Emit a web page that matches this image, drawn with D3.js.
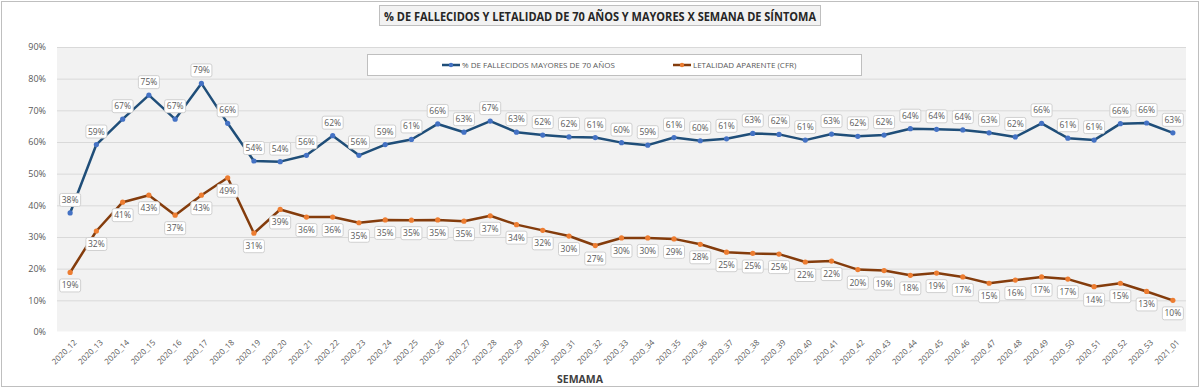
<!DOCTYPE html>
<html lang="es">
<head>
  <meta charset="UTF-8">
  <title>% de fallecidos y letalidad 70+</title>
  <script src="https://d3js.org/d3.v7.min.js"></script>
  <style>
    body { margin: 0; background: #fff; }
    text { font-family: "Open Sans", "Liberation Sans", sans-serif; }
  </style>
</head>
<body>
<svg width="1200" height="388"></svg>
<script>
  const svg = d3.select("svg"),
        width = +svg.attr("width"),
        height = +svg.attr("height");

  // Semanas
  const weeks = [];
  for (let w = 12; w <= 53; w++) weeks.push("2020_" + w);
  weeks.push("2021_01");

  // % de fallecidos mayores de 70 años
  const pctOld = [37.6, 59.2, 67.2, 74.8, 67.2, 78.5, 65.9, 54.0, 53.8, 55.8,
                  62.0, 55.8, 59.2, 60.8, 65.7, 63.1, 66.6, 63.1, 62.2, 61.6,
                  61.4, 59.8, 59.0, 61.4, 60.4, 61.0, 62.7, 62.4, 60.6, 62.5,
                  61.8, 62.2, 64.2, 64.0, 63.8, 62.9, 61.6, 65.9, 61.2, 60.6,
                  65.8, 66.0, 62.9];

  // Letalidad aparente (CFR)
  const cfr = [18.8, 31.9, 41.0, 43.2, 36.9, 43.2, 48.7, 31.2, 38.7, 36.3,
               36.3, 34.5, 35.4, 35.3, 35.4, 35.0, 36.7, 33.9, 32.1, 30.3,
               27.3, 29.7, 29.7, 29.4, 27.7, 25.2, 24.8, 24.6, 22.1, 22.4,
               19.7, 19.4, 17.9, 18.6, 17.4, 15.4, 16.4, 17.4, 16.7, 14.3,
               15.4, 12.8, 10.0];

  const yTicks = [0, 10, 20, 30, 40, 50, 60, 70, 80, 90];

  const series = [
    { name: "% DE FALLECIDOS MAYORES DE 70 AÑOS", values: pctOld, line: "#1f4e79", dot: "#4472c4", dy: -13 },
    { name: "LETALIDAD APARENTE (CFR)", values: cfr, line: "#843c0c", dot: "#ed7d31", dy: 13 }
  ];

  const plot = { left: 57, right: 1186, top: 47, bottom: 332 };

  const x = d3.scaleBand().domain(weeks).range([plot.left, plot.right]);
  const y = d3.scaleLinear().domain([0, 90]).range([plot.bottom, plot.top]);
  const cx = d => x(d) + x.bandwidth() / 2;

  // outer frame
  svg.append("rect")
      .attr("x", 1.5).attr("y", 1.5)
      .attr("width", width - 3).attr("height", height - 3)
      .attr("fill", "#fff").attr("stroke", "#bfbfbf");

  // plot background + grid
  svg.append("rect")
      .attr("x", plot.left).attr("y", plot.top)
      .attr("width", plot.right - plot.left).attr("height", plot.bottom - plot.top)
      .attr("fill", "#f2f2f2");

  svg.append("g").selectAll("line")
    .data(yTicks)
    .enter().append("line")
      .attr("x1", plot.left).attr("x2", plot.right)
      .attr("y1", d => y(d) + 0.5).attr("y2", d => y(d) + 0.5)
      .attr("stroke", d => d === 0 ? "#ffffff" : "#d9d9d9")
      .attr("stroke-width", d => d === 0 ? 2 : 1);

  // y axis
  const yAxis = svg.append("g")
      .attr("transform", `translate(${plot.left - 8},0)`)
      .call(d3.axisLeft(y).tickValues(yTicks).tickFormat(d => d + "%").tickSize(0));
  yAxis.select(".domain").remove();
  yAxis.selectAll("text").attr("fill", "#595959").attr("font-size", 9);

  // x axis
  const xAxis = svg.append("g")
      .attr("transform", `translate(0,${plot.bottom})`)
      .call(d3.axisBottom(x).tickSize(0));
  xAxis.select(".domain").remove();
  xAxis.selectAll("text")
      .attr("fill", "#595959")
      .attr("font-size", 8)
      .attr("text-anchor", "end")
      .attr("dy", 0)
      .attr("transform", "translate(5,9) rotate(-45)");

  svg.append("text")
      .attr("x", 580).attr("y", 383)
      .attr("text-anchor", "middle")
      .attr("font-size", 10.5).attr("font-weight", "bold")
      .attr("fill", "#404040")
      .text("SEMAMA");

  // legend
  const lg = svg.append("g");
  lg.append("rect")
      .attr("x", 367.5).attr("y", 54.5).attr("width", 494).attr("height", 21)
      .attr("fill", "#fff").attr("stroke", "#bfbfbf");
  const legX = [442, 673];
  series.forEach((s, i) => {
    const g = lg.append("g").attr("transform", `translate(${legX[i]},65)`);
    g.append("line").attr("x1", 0).attr("x2", 18).attr("stroke", s.line).attr("stroke-width", 2.5);
    g.append("circle").attr("cx", 9).attr("r", 2.2).attr("fill", s.dot);
    g.append("text").attr("x", 20).attr("dy", "0.35em")
      .attr("font-size", 8).attr("fill", "#595959").text(s.name);
  });

  // lines, markers, labels
  const line = d3.line().x((d, i) => cx(weeks[i])).y(d => y(d));

  series.forEach(s => {
    svg.append("path")
        .datum(s.values)
        .attr("d", line)
        .attr("fill", "none")
        .attr("stroke", s.line)
        .attr("stroke-width", 2.5)
        .attr("stroke-linejoin", "round");

    svg.append("g").selectAll("circle")
      .data(s.values)
      .enter().append("circle")
        .attr("cx", (d, i) => cx(weeks[i]))
        .attr("cy", d => y(d))
        .attr("r", 2.6)
        .attr("fill", s.dot);
  });

  series.forEach(s => {
    const lab = svg.append("g").selectAll("g")
      .data(s.values)
      .enter().append("g")
        .attr("transform", (d, i) => `translate(${cx(weeks[i])},${y(d) + s.dy})`);
    lab.append("rect")
        .attr("x", -10.5).attr("y", -6.5).attr("width", 21).attr("height", 13)
        .attr("rx", 2)
        .attr("fill", "#fff").attr("stroke", "#d0d0d0");
    lab.append("text")
        .attr("text-anchor", "middle").attr("dy", "0.35em")
        .attr("font-size", 8.5).attr("fill", "#595959")
        .text(d => Math.round(d) + "%");
  });

  // title
  svg.append("rect")
      .attr("x", 379.5).attr("y", 5.5).attr("width", 441).attr("height", 20)
      .attr("fill", "#f2f2f2").attr("stroke", "#bfbfbf");
  svg.append("text")
      .attr("x", 600).attr("y", 16)
      .attr("dy", "0.35em")
      .attr("text-anchor", "middle")
      .attr("font-size", 13).attr("font-weight", "bold")
      .attr("fill", "#262626")
      .attr("textLength", 432).attr("lengthAdjust", "spacingAndGlyphs")
      .text("% DE FALLECIDOS Y LETALIDAD DE 70 AÑOS Y MAYORES X SEMANA DE SÍNTOMA");
</script>
</body>
</html>
